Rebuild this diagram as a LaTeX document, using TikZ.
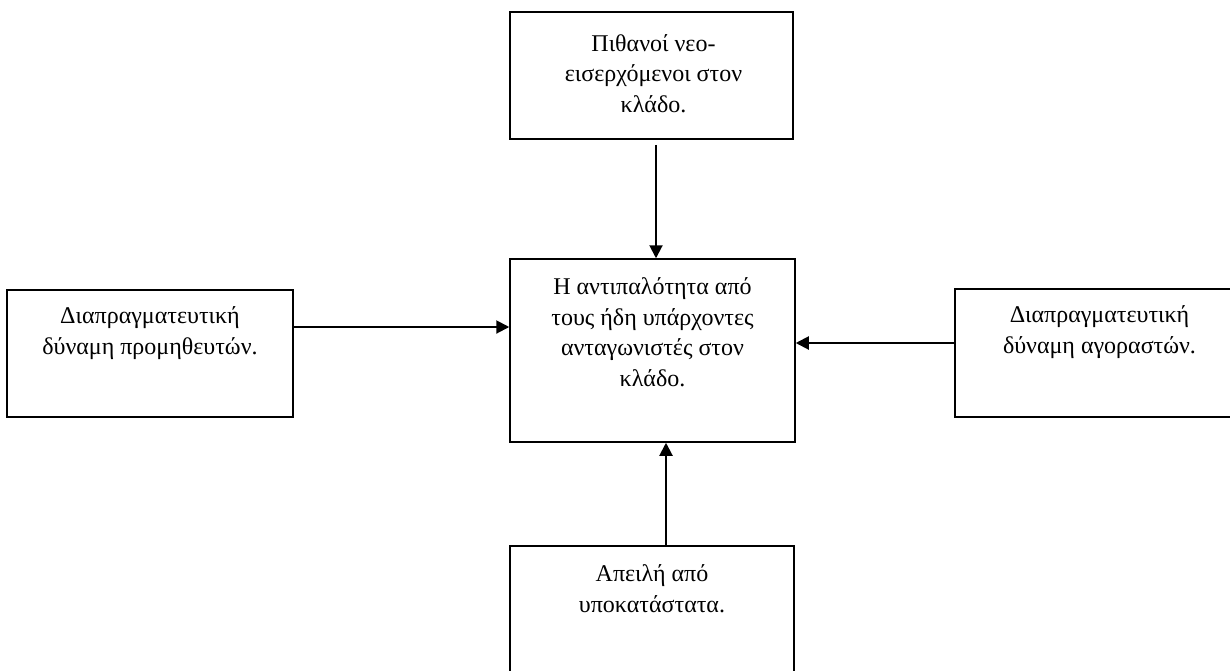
\documentclass[tikz,border=0pt]{standalone}
\usepackage{fontspec}
\setmainfont{Liberation Serif}
\usepackage{tikz}
\usetikzlibrary{positioning,arrows.meta}

\tikzset{
  force/.style={draw, line width=1.5pt, rectangle, inner sep=0pt},
  txt/.style={align=center, inner sep=0pt, anchor=base, font=\fontsize{24}{30.5}\selectfont},
  flow/.style={line width=2pt, -{Triangle[length=13pt,width=13pt]}}
}

\begin{document}
\begin{tikzpicture}[x=1pt,y=-1pt]
            \useasboundingbox (0,0) rectangle (1230,670);
            % the five boxes
            \node[force, minimum width=283pt, minimum height=127pt] (newent) at (651.5,75.5) {};
            \node[force, minimum width=285pt, minimum height=183pt] (rivalry) at (652.5,350.5) {};
            \node[force, minimum width=286pt, minimum height=127pt] (supp) at (150,353.5) {};
            \node[force, minimum width=285pt, minimum height=128pt] (buy) at (1097.5,353) {};
            \node[force, minimum width=284pt, minimum height=130pt] (subst) at (652,611) {};
            % texts (base = last line)
            \node[below=101pt of newent.north, txt, xshift=2pt] (newenttxt) {Πιθανοί νεο-\\εισερχόμενοι στον\\κλάδο.};
            \node[below=128pt of rivalry.north, txt] (rivalrytxt) {Η αντιπαλότητα από\\τους ήδη υπάρχοντες\\ανταγωνιστές στον\\κλάδο.};
            \node[below=65pt of supp.north, txt] (supptxt) {Διαπραγματευτική\\δύναμη προμηθευτών.};
            \node[below=65pt of buy.north, txt, xshift=2pt] (buytxt) {Διαπραγματευτική\\δύναμη αγοραστών.};
            \node[below=67pt of subst.north, txt] (substtxt) {Απειλή από\\υποκατάστατα.};
            % arrows
            \draw[flow] ([xshift=4.5pt,yshift=-5pt]newent.south) -- ([xshift=3.5pt]rivalry.north);
            \draw[flow] ([yshift=26.5pt]supp.east) -- ([yshift=23.5pt]rivalry.west);
            \draw[flow] ([yshift=10pt]buy.west) -- ([yshift=7.5pt]rivalry.east);
            \draw[flow] ([xshift=14pt]subst.north) -- ([xshift=13.5pt]rivalry.south);
        \end{tikzpicture}
\end{document}
